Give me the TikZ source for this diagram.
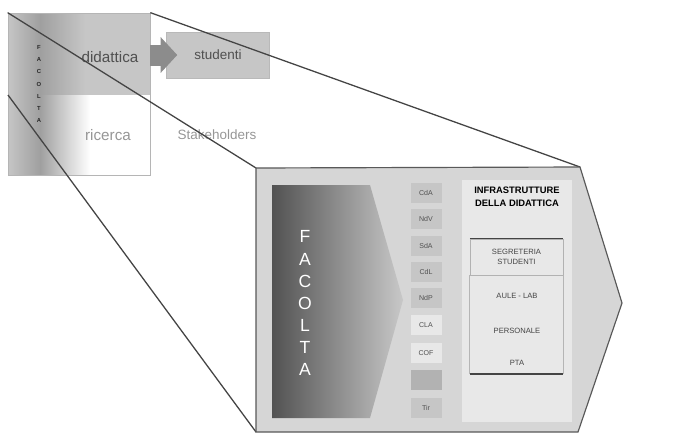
\documentclass[tikz,border=0pt]{standalone}
\usepackage{fontspec}
\setmainfont{Liberation Sans}
\usepackage{tikz}
\usetikzlibrary{arrows.meta, positioning, calc}
\definecolor{mydark}{RGB}{68,68,68}
\definecolor{mytext}{RGB}{80,80,80}
\definecolor{myfaint}{RGB}{150,150,150}
\definecolor{mygray}{RGB}{198,198,198}
\definecolor{mylight}{RGB}{214,214,214}
\definecolor{mypale}{RGB}{232,232,232}
\definecolor{facdark}{RGB}{82,82,82}
\definecolor{faclight}{RGB}{200,200,200}
\tikzset{
  zoomline/.style={draw, line width=1.1pt, color=mydark},
  frame/.style={draw=myfaint!70, line width=0.6pt},
  lbl/.style={font=\fontsize{13}{15}\selectfont},
  smalllbl/.style={font=\fontsize{11.5}{13}\selectfont},
  colbox/.style={draw=mylight, fill=mygray, minimum width=9.6mm, minimum height=6.3mm, inner sep=0pt, font=\fontsize{6}{7}\selectfont, text=mytext},
  item/.style={font=\fontsize{6.5}{8}\selectfont, text=mydark, align=center, inner sep=1pt}
}

\begin{document}
\begin{tikzpicture}[x=0.3mm, y=-0.3mm]
  \useasboundingbox (0,0) rectangle (682,435);

  % ═══════════════════════════════════════════════════════════════
  % SMALL VIEW: didattica / ricerca with the Facolta strip
  % ═══════════════════════════════════════════════════════════════
  \fill[mygray] (8,13) rectangle (150,95);
  \fill[white] (8,95) rectangle (150,175);
  \shade[left color=gray!45, right color=gray!75] (8,13) rectangle (40,175);
  \shade[left color=gray!75, right color=mygray] (40,13) rectangle (85,95);
  \shade[left color=gray!75, right color=white] (40,95) rectangle (90,175);
  \node[frame, minimum width=42.6mm, minimum height=48.6mm] (ateneo) at (79,94) {};
  \coordinate (miniSW) at (8,95);

  \node[font=\fontsize{5}{10.5}\selectfont\bfseries, text=black!85, align=center, inner sep=0pt] (minifac) at (39,84) {F\\A\\C\\O\\L\\T\\A};

  \node[lbl, text=mytext] (didattica) at (110,57) {didattica};
  \node[lbl, text=myfaint] (ricerca) at (108,135) {ricerca};

  % Stakeholders side
  \node[draw=gray!55, fill=mygray, minimum width=30.9mm, minimum height=13.8mm, smalllbl, text=mytext] (studenti) at (218,55) {studenti};
  \node[smalllbl, text=myfaint] (stake) at (217,135) {Stakeholders};

  % big arrow didattica -> studenti
  \draw[line width=6.3mm, color=gray!90, -{Triangle[length=5mm, width=10.5mm]}]
    (ateneo.east |- studenti.west) -- ([xshift=3.3mm]studenti.west);

  % ═══════════════════════════════════════════════════════════════
  % ZOOM LINES
  % ═══════════════════════════════════════════════════════════════
  \coordinate (bigNW) at (256,168);
  \coordinate (bigNE) at (580,167);
  \coordinate (bigTip) at (622,303);
  \coordinate (bigSE) at (578,432);
  \coordinate (bigSW) at (256,432);
  \draw[zoomline] (ateneo.north west) -- (bigNW);
  \draw[zoomline] (ateneo.north east) -- (bigNE);
  \draw[zoomline] (miniSW) -- (bigSW);

  % ═══════════════════════════════════════════════════════════════
  % ENLARGED VIEW
  % ═══════════════════════════════════════════════════════════════
  \draw[fill=mylight, draw=gray!70!black, line width=1pt]
    (bigNW) -- (bigNE) -- (bigTip) -- (bigSE) -- (bigSW) -- cycle;
  \fill[mypale] (462,180) rectangle (572,422);

  % Facolta arrow
  \shade[left color=facdark, right color=faclight]
    (272,185) -- (370,185) -- (403,300) -- (370,418) -- (272,418) -- cycle;
  \node[font=\fontsize{15}{18.8}\selectfont, text=white, align=center, inner sep=0pt] (facolta) at (305,303) {F\\A\\C\\O\\L\\T\\A};

  % column of bodies
  \foreach \name/\txt/\yy/\col in {cda/CdA/193/mygray, ndv/NdV/219/mygray, sda/SdA/246/mygray,
      cdl/CdL/272/mygray, ndp/NdP/298/mygray, cla/CLA/325/mypale, cof/COF/353/mypale,
      vuoto//380/mygray!90!black, tir/Tir/408/mygray}
    \node[colbox, fill=\col] (\name) at (426,\yy) {\txt};

  % infrastrutture della didattica
  \node[font=\fontsize{8}{11}\selectfont\bfseries, align=center] (infra) at (517,197) {INFRASTRUTTURE\\DELLA DIDATTICA};
  \node[item, draw=gray!60, minimum width=27.9mm, minimum height=10.8mm] (segr) at (516.5,257) {SEGRETERIA\\STUDENTI};
  \node[item] (aule) at (517,296) {AULE - LAB};
  \node[item] (pers) at (517,331) {PERSONALE};
  \node[item] (pta) at (517,363) {PTA};
  \coordinate (panelbot) at (517,374);
  \draw[frame] (segr.south west) -- (segr.south west |- panelbot);
  \draw[frame] (segr.south east) -- (segr.south east |- panelbot);
  \draw[line width=1pt, color=mydark] (segr.north west) -- (segr.north east);
  \draw[line width=1pt, color=mydark] (segr.south west |- panelbot) -- (segr.south east |- panelbot);
\end{tikzpicture}
\end{document}
